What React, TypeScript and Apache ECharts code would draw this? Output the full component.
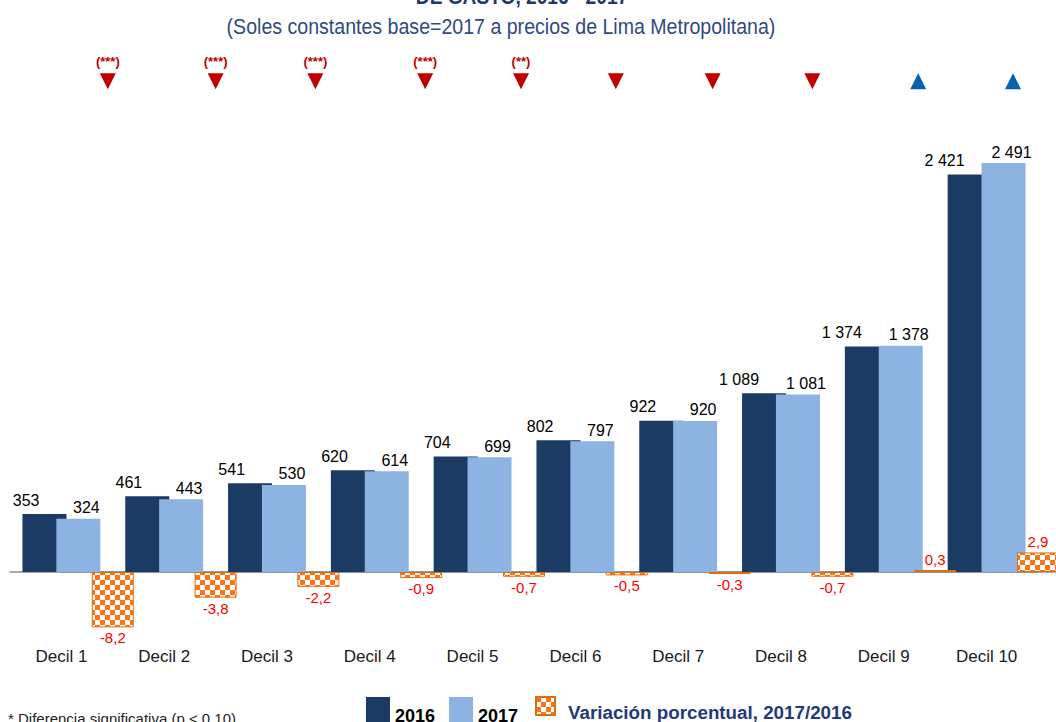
import React, { useEffect, useRef } from "react";
import * as echarts from "echarts";

const CATEGORIES = ["Decil 1", "Decil 2", "Decil 3", "Decil 4", "Decil 5", "Decil 6", "Decil 7", "Decil 8", "Decil 9", "Decil 10"];
const VALUES_2016 = [353, 461, 541, 620, 704, 802, 922, 1089, 1374, 2421];
const VALUES_2017 = [324, 443, 530, 614, 699, 797, 920, 1081, 1378, 2491];
const PCT_CHANGE = [-8.2, -3.8, -2.2, -0.9, -0.7, -0.5, -0.3, -0.7, 0.3, 2.9];
const SIGNIFICANCE = ["(***)", "(***)", "(***)", "(***)", "(**)", "", "", "", "", ""];
const DIRECTION = ["down", "down", "down", "down", "down", "down", "down", "down", "up", "up"];
const SERIES_NAMES = ["2016", "2017", "Variación porcentual, 2017/2016"];
const TITLE = "DE GASTO, 2016 - 2017";
const SUBTITLE = "(Soles constantes base=2017 a precios de Lima Metropolitana)";
const FOOTNOTE = "* Diferencia significativa (p < 0.10)";

// layout-only tweaks (pixel nudges of the hand-placed markers)
const MARKER_NUDGE = [-5, 0, -3, 4, -3, -11, -17, -20, -17, -25];
const MARKER_LEVEL = 72.7;

const SANS = '"Liberation Sans", Arial, sans-serif';
const DARK = "#1b3a64";
const LIGHT = "#8db3e2";
const ORANGE = "#ff7316";

function fmtThousands(v: number): string {
  return String(Math.round(v)).replace(/\B(?=(\d{3})+(?!\d))/g, " ");
}
function fmtPct(v: number): string {
  return v.toFixed(1).replace(".", ",");
}
function makeChecker(cell: number): HTMLCanvasElement {
  const c = document.createElement("canvas");
  c.width = cell * 2;
  c.height = cell * 2;
  const ctx = c.getContext("2d")!;
  ctx.fillStyle = "#ffffff";
  ctx.fillRect(0, 0, c.width, c.height);
  ctx.fillStyle = ORANGE;
  ctx.fillRect(0, 0, cell, cell);
  ctx.fillRect(cell, cell, cell, cell);
  return c;
}

export default function App() {
  const ref = useRef<HTMLDivElement>(null);
  useEffect(() => {
    if (!ref.current) return;
    const chart = echarts.init(ref.current, undefined, { renderer: "svg" });
    const checker = makeChecker(5);
    const option: any = {
      animation: false,
      backgroundColor: "#ffffff",
      grid: [
        { left: 10, width: 1028, top: 40, height: 606, outerBoundsMode: "none", containLabel: false },
        { left: 61.4, width: 1028, top: 40, height: 606, outerBoundsMode: "none", containLabel: false },
      ],
      xAxis: [
        {
          type: "category",
          gridIndex: 0,
          data: CATEGORIES,
          axisLine: { onZero: true, lineStyle: { color: "#8c8c8c", width: 1.5 } },
          axisTick: { length: 6, lineStyle: { color: "#8c8c8c", width: 1.2 } },
          axisLabel: { margin: 2, fontSize: 17, color: "#1a1a1a", fontFamily: SANS },
        },
        {
          type: "category",
          gridIndex: 1,
          data: CATEGORIES,
          axisLine: { onZero: true, lineStyle: { color: "#8c8c8c", width: 1.5 } },
          axisTick: { show: false },
          axisLabel: { show: false },
        },
      ],
      yAxis: [
        { type: "value", gridIndex: 0, min: -450.7, max: 3240.5, show: false, splitLine: { show: false } },
        { type: "value", gridIndex: 1, min: -10.96, max: 78.81, show: false, splitLine: { show: false } },
      ],
      legend: [
        {
          data: [SERIES_NAMES[0], SERIES_NAMES[1]],
          left: 366,
          top: 697,
          padding: 0,
          itemWidth: 24,
          itemHeight: 38,
          itemGap: 14,
          icon: "rect",
          textStyle: { fontFamily: SANS, fontWeight: "bold", fontSize: 18, color: "#000" },
        },
        {
          data: [SERIES_NAMES[2]],
          left: 535,
          top: 696,
          padding: 0,
          itemWidth: 19,
          itemHeight: 18,
          icon: "rect",
          formatter: (name: string) => `{t|${name}}`,
          textStyle: {
            fontFamily: SANS,
            fontWeight: "bold",
            fontSize: 18.8,
            color: "#1f3a7a",
            rich: {
              t: {
                fontFamily: SANS,
                fontWeight: "bold",
                fontSize: 18.8,
                color: "#1f3a7a",
                padding: [12, 0, 0, 8],
              },
            },
          },
        },
      ],
      graphic: [
        {
          type: "text",
          x: 522,
          y: 7,
          scaleX: 0.87,
          style: {
            text: TITLE,
            fill: "#1f3864",
            font: `bold 22px ${SANS}`,
            textAlign: "center",
            textVerticalAlign: "bottom",
          },
        },
        {
          type: "text",
          x: 501,
          y: 26,
          scaleX: 0.89,
          style: {
            text: SUBTITLE,
            fill: "#2f4a7f",
            font: `22px ${SANS}`,
            textAlign: "center",
            textVerticalAlign: "middle",
          },
        },
        {
          type: "text",
          x: 8,
          y: 711,
          style: {
            text: FOOTNOTE,
            fill: "#222",
            font: `15px ${SANS}`,
            textAlign: "left",
            textVerticalAlign: "top",
          },
        },
      ],
      series: [
        {
          name: SERIES_NAMES[0],
          type: "bar",
          xAxisIndex: 0,
          yAxisIndex: 0,
          barWidth: 44,
          barGap: "-23%",
          data: VALUES_2016,
          itemStyle: { color: DARK },
          label: {
            show: true,
            position: "top",
            align: "right",
            distance: 6,
            offset: [-5, 0],
            formatter: (p: any) => fmtThousands(p.value),
            fontFamily: SANS,
            fontSize: 16,
            color: "#000",
          },
        },
        {
          name: SERIES_NAMES[1],
          type: "bar",
          xAxisIndex: 0,
          yAxisIndex: 0,
          barWidth: 44,
          data: VALUES_2017,
          itemStyle: { color: LIGHT },
          label: {
            show: true,
            position: "top",
            distance: 3,
            offset: [8, 0],
            formatter: (p: any) => fmtThousands(p.value),
            fontFamily: SANS,
            fontSize: 16,
            color: "#000",
          },
        },
        {
          name: SERIES_NAMES[2],
          type: "bar",
          xAxisIndex: 1,
          yAxisIndex: 1,
          barWidth: 42,
          data: PCT_CHANGE.map((v) => ({
            value: v,
            label: { position: v < 0 ? "bottom" : "top" },
          })),
          itemStyle: {
            color: { image: checker, repeat: "repeat" },
            borderColor: "#e46c0a",
            borderWidth: 1,
          },
          label: {
            show: true,
            distance: 3,
            formatter: (p: any) => fmtPct(p.value),
            fontFamily: SANS,
            fontSize: 15,
            color: "#ff0000",
          },
        },
        {
          type: "scatter",
          xAxisIndex: 1,
          yAxisIndex: 1,
          symbol: "triangle",
          symbolSize: [16, 16],
          data: CATEGORIES.map((_, i) => ({
            value: [i, MARKER_LEVEL],
            symbolRotate: DIRECTION[i] === "down" ? 180 : 0,
            symbolOffset: [MARKER_NUDGE[i], 0],
            itemStyle: { color: DIRECTION[i] === "down" ? "#c00000" : "#0563ae", opacity: 1 },
            label: { formatter: SIGNIFICANCE[i] },
          })),
          itemStyle: { opacity: 1 },
          label: {
            show: true,
            position: "top",
            distance: 5,
            color: "#c00000",
            fontWeight: "bold",
            fontSize: 13,
            fontFamily: SANS,
          },
        },
      ],
    };
    chart.setOption(option);
    return () => chart.dispose();
  }, []);
  return (
    <div
      ref={ref}
      style={{ position: "fixed", left: 0, top: 0, width: 1056, height: 722 }}
    />
  );
}
